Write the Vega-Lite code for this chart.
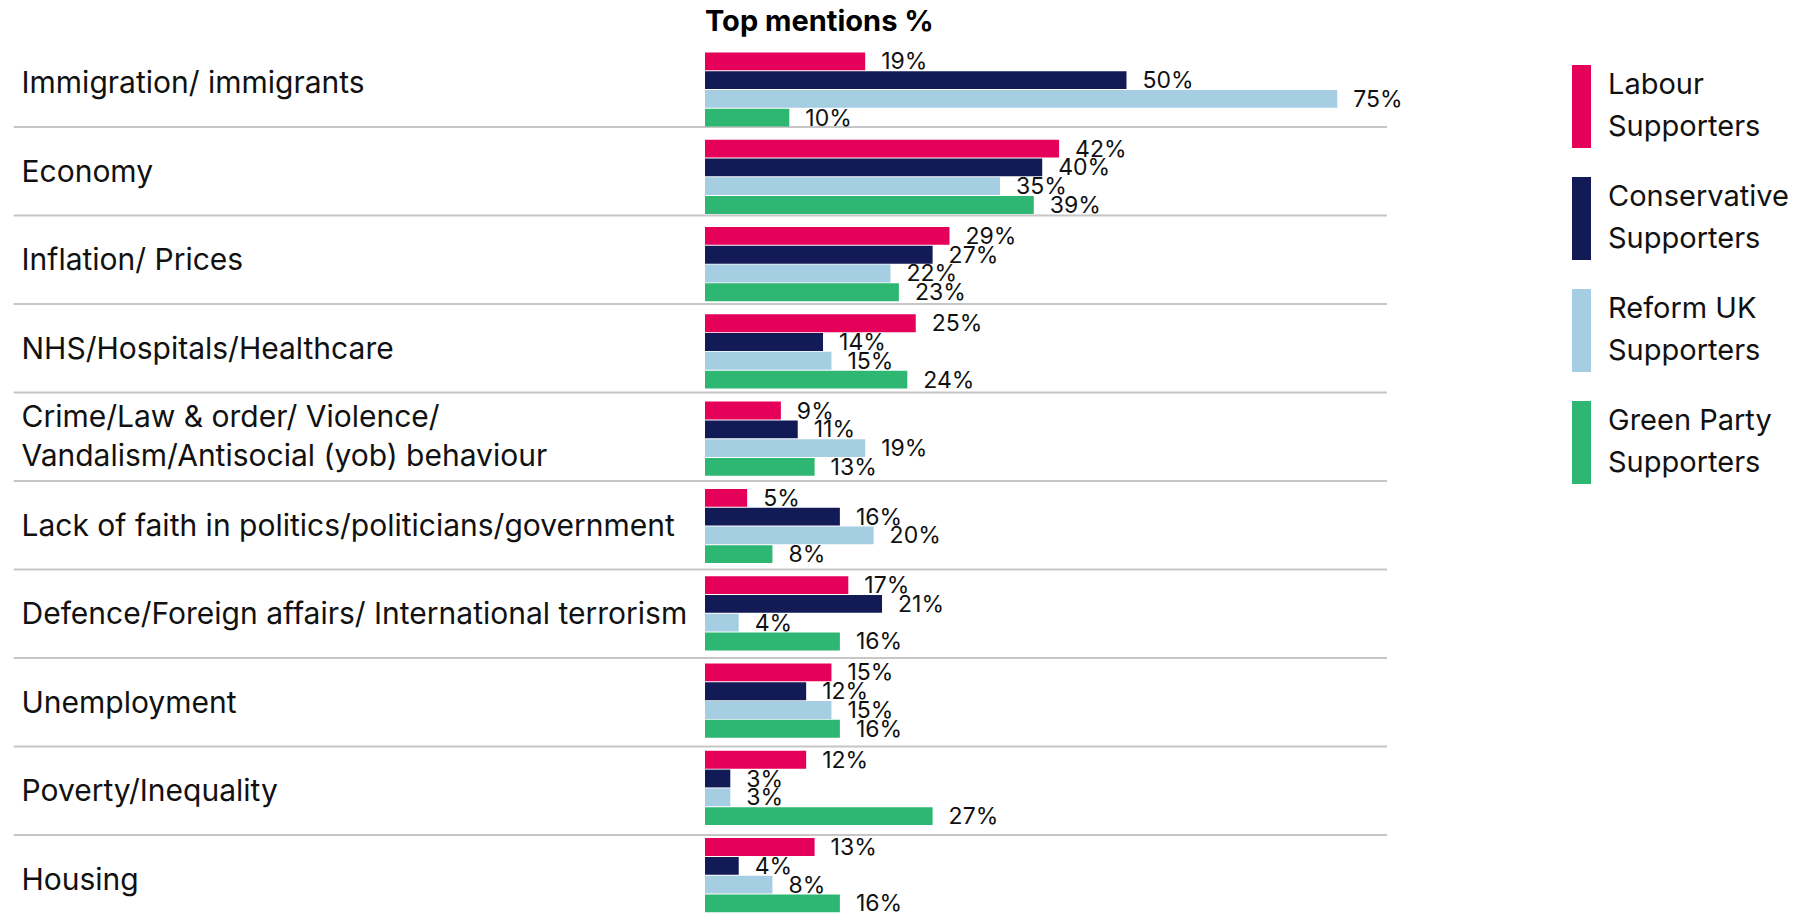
{
  "$schema": "https://vega.github.io/schema/vega-lite/v6.json",
  "width": 682,
  "height": 885,
  "autosize": {"type": "none"},
  "padding": {"left": 705, "top": 38.5, "right": 426, "bottom": 0},
  "background": "white",
  "config": {"view": {"stroke": null}, "font": "Inter", "style": {"guide-label": {"lineHeight": 42}}},
  "title": {"text": "Top mentions %", "anchor": "start", "frame": "group", "fontSize": 29, "fontWeight": "bold", "font": "Inter", "color": "#000000", "offset": 1.5},
  "data": {"values": [
    {"category": "Immigration/ immigrants", "party": "Labour Supporters", "value": 0.19},
    {"category": "Immigration/ immigrants", "party": "Conservative Supporters", "value": 0.50},
    {"category": "Immigration/ immigrants", "party": "Reform UK Supporters", "value": 0.75},
    {"category": "Immigration/ immigrants", "party": "Green Party Supporters", "value": 0.10},
    {"category": "Economy", "party": "Labour Supporters", "value": 0.42},
    {"category": "Economy", "party": "Conservative Supporters", "value": 0.40},
    {"category": "Economy", "party": "Reform UK Supporters", "value": 0.35},
    {"category": "Economy", "party": "Green Party Supporters", "value": 0.39},
    {"category": "Inflation/ Prices", "party": "Labour Supporters", "value": 0.29},
    {"category": "Inflation/ Prices", "party": "Conservative Supporters", "value": 0.27},
    {"category": "Inflation/ Prices", "party": "Reform UK Supporters", "value": 0.22},
    {"category": "Inflation/ Prices", "party": "Green Party Supporters", "value": 0.23},
    {"category": "NHS/Hospitals/Healthcare", "party": "Labour Supporters", "value": 0.25},
    {"category": "NHS/Hospitals/Healthcare", "party": "Conservative Supporters", "value": 0.14},
    {"category": "NHS/Hospitals/Healthcare", "party": "Reform UK Supporters", "value": 0.15},
    {"category": "NHS/Hospitals/Healthcare", "party": "Green Party Supporters", "value": 0.24},
    {"category": "Crime/Law & order/ Violence/ Vandalism/Antisocial (yob) behaviour", "party": "Labour Supporters", "value": 0.09},
    {"category": "Crime/Law & order/ Violence/ Vandalism/Antisocial (yob) behaviour", "party": "Conservative Supporters", "value": 0.11},
    {"category": "Crime/Law & order/ Violence/ Vandalism/Antisocial (yob) behaviour", "party": "Reform UK Supporters", "value": 0.19},
    {"category": "Crime/Law & order/ Violence/ Vandalism/Antisocial (yob) behaviour", "party": "Green Party Supporters", "value": 0.13},
    {"category": "Lack of faith in politics/politicians/government", "party": "Labour Supporters", "value": 0.05},
    {"category": "Lack of faith in politics/politicians/government", "party": "Conservative Supporters", "value": 0.16},
    {"category": "Lack of faith in politics/politicians/government", "party": "Reform UK Supporters", "value": 0.20},
    {"category": "Lack of faith in politics/politicians/government", "party": "Green Party Supporters", "value": 0.08},
    {"category": "Defence/Foreign affairs/ International terrorism", "party": "Labour Supporters", "value": 0.17},
    {"category": "Defence/Foreign affairs/ International terrorism", "party": "Conservative Supporters", "value": 0.21},
    {"category": "Defence/Foreign affairs/ International terrorism", "party": "Reform UK Supporters", "value": 0.04},
    {"category": "Defence/Foreign affairs/ International terrorism", "party": "Green Party Supporters", "value": 0.16},
    {"category": "Unemployment", "party": "Labour Supporters", "value": 0.15},
    {"category": "Unemployment", "party": "Conservative Supporters", "value": 0.12},
    {"category": "Unemployment", "party": "Reform UK Supporters", "value": 0.15},
    {"category": "Unemployment", "party": "Green Party Supporters", "value": 0.16},
    {"category": "Poverty/Inequality", "party": "Labour Supporters", "value": 0.12},
    {"category": "Poverty/Inequality", "party": "Conservative Supporters", "value": 0.03},
    {"category": "Poverty/Inequality", "party": "Reform UK Supporters", "value": 0.03},
    {"category": "Poverty/Inequality", "party": "Green Party Supporters", "value": 0.27},
    {"category": "Housing", "party": "Labour Supporters", "value": 0.13},
    {"category": "Housing", "party": "Conservative Supporters", "value": 0.04},
    {"category": "Housing", "party": "Reform UK Supporters", "value": 0.08},
    {"category": "Housing", "party": "Green Party Supporters", "value": 0.16}
  ]},
  "layer": [
    {
      "transform": [{"filter": "datum.party == 'Labour Supporters' && datum.category != 'Housing'"}],
      "mark": {"type": "rule", "color": "#c6c6c6", "strokeWidth": 2},
      "encoding": {
        "y": {
          "field": "category", "type": "nominal", "bandPosition": 1,
          "sort": null,
          "scale": {"domain": ["Immigration/ immigrants", "Economy", "Inflation/ Prices", "NHS/Hospitals/Healthcare", "Crime/Law & order/ Violence/ Vandalism/Antisocial (yob) behaviour", "Lack of faith in politics/politicians/government", "Defence/Foreign affairs/ International terrorism", "Unemployment", "Poverty/Inequality", "Housing"], "paddingInner": 0, "paddingOuter": 0},
          "axis": {
            "title": null, "orient": "left", "labelAlign": "left", "labelBaseline": "middle", "labelPadding": 684,
            "ticks": false, "tickSize": 0, "domain": false, "grid": false,
            "labelFontSize": 30, "labelFont": "Inter", "labelColor": "#111111", "labelLimit": 0, "labelLineHeight": 39, "labelOverlap": false,
            "labelOffset": {"condition": {"test": "indexof(datum.value, 'Crime') == 0", "value": -19}, "value": 1.5},
            "labelExpr": "indexof(datum.value, 'Crime') == 0 ? ['Crime/Law & order/ Violence/', 'Vandalism/Antisocial (yob) behaviour'] : datum.label"
          }
        },
        "x": {"datum": -0.82, "type": "quantitative", "scale": {"domain": [0, 0.809], "nice": false, "zero": false}, "axis": null},
        "x2": {"datum": 0.809}
      }
    },
    {
      "encoding": {
        "y": {
          "field": "category", "type": "nominal", "sort": null,
          "scale": {"domain": ["Immigration/ immigrants", "Economy", "Inflation/ Prices", "NHS/Hospitals/Healthcare", "Crime/Law & order/ Violence/ Vandalism/Antisocial (yob) behaviour", "Lack of faith in politics/politicians/government", "Defence/Foreign affairs/ International terrorism", "Unemployment", "Poverty/Inequality", "Housing"], "range": [7.35, 880.35], "paddingInner": 0, "paddingOuter": 0},
          "axis": null
        },
        "yOffset": {
          "field": "party", "type": "nominal", "sort": null,
          "scale": {"domain": ["Labour Supporters", "Conservative Supporters", "Reform UK Supporters", "Green Party Supporters"], "paddingInner": 0.05, "paddingOuter": 0.35}
        },
        "x": {"field": "value", "type": "quantitative", "scale": {"domain": [0, 0.809], "nice": false, "zero": false}, "axis": null}
      },
      "layer": [
        {
          "mark": {"type": "bar"},
          "encoding": {
            "color": {
              "field": "party", "type": "nominal", "sort": null,
              "scale": {"domain": ["Labour Supporters", "Conservative Supporters", "Reform UK Supporters", "Green Party Supporters"], "range": ["#E5005A", "#131B57", "#A6CEE2", "#2EB673"]},
              "legend": {
                "orient": "none", "legendX": 835, "legendY": 26.5, "title": null, "direction": "vertical",
                "symbolType": "M-0.229,-1L0.229,-1L0.229,1L-0.229,1Z", "symbolSize": 6889, "symbolStrokeWidth": 0, "symbolOpacity": 1,
                "labelFontSize": 29, "labelFont": "Inter", "labelColor": "#111111", "labelBaseline": "line-bottom", "labelOffset": -15, "labelLimit": 0,
                "rowPadding": 29, "padding": 0,
                "labelExpr": "[replace(datum.label, ' Supporters', ''), 'Supporters']"
              }
            }
          }
        },
        {
          "mark": {"type": "text", "align": "left", "baseline": "middle", "dx": 16, "dy": 1, "fontSize": 23, "font": "Inter", "color": "#111111"},
          "encoding": {"text": {"field": "value", "type": "quantitative", "format": ".0%"}}
        }
      ]
    }
  ],
  "resolve": {"scale": {"y": "independent"}}
}
